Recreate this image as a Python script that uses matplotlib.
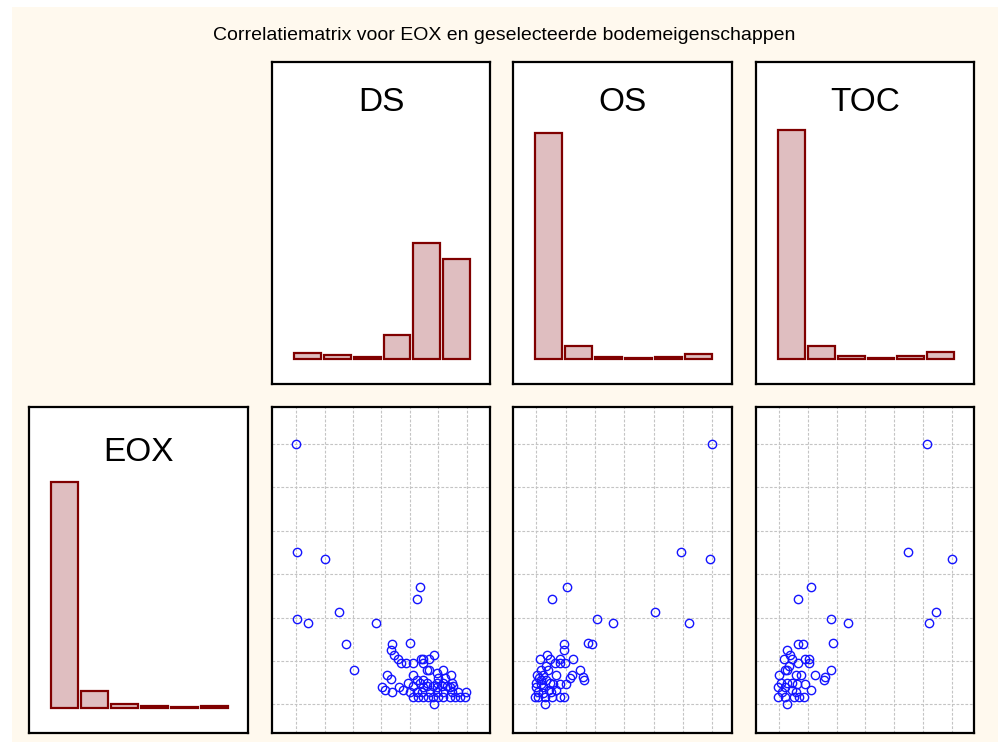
import matplotlib
matplotlib.use("Agg")
import matplotlib.pyplot as plt
from matplotlib.patches import Rectangle

plt.rcParams['font.family'] = ['Liberation Sans', 'DejaVu Sans']

# histogram counts (6 bins per variable)
eox_counts = [224, 17, 4, 2, 1, 2]
ds_counts = [6, 4, 2, 24, 116, 100]
os_counts = [227, 13, 2, 1, 2, 5]
toc_counts = [230, 13, 3, 1, 3, 7]

# scatter EOX vs DS (grid units)
ds_x = [-0.02, 0.04, 1.02, 4.36, 4.25, 0.02, 0.41, 1.52, 2.82, 1.76, 4.00, 2.02,
        3.38, 3.32, 3.44, 3.58, 3.69, 3.86, 4.12, 4.38, 4.47, 4.68, 4.86, 4.45,
        4.59, 4.68, 5.18, 5.44, 4.94, 3.18, 3.33, 3.01, 3.13, 3.38, 3.62, 3.76,
        3.94, 4.12, 4.24, 4.47, 4.86, 5.98,
        4.35, 4.59, 4.94, 5.18, 5.47,
        4.12, 4.59, 4.82, 5.12, 5.29, 5.53,
        4.00, 4.24, 4.41, 4.71, 4.94, 5.18, 5.47, 5.71,
        4.12, 4.29, 4.47, 4.65, 4.82, 5.00, 5.18, 5.41, 5.59, 5.76, 5.94,
        4.47, 4.94, 5.41, 5.00, 5.24]
ds_y = [6.00, 3.50, 3.34, 2.71, 2.42, 1.96, 1.88, 2.13, 1.88, 1.38, 1.42, 0.80,
        1.38, 1.26, 1.13, 1.05, 0.96, 0.96, 0.96, 1.05, 1.05, 1.05, 1.13, 0.96,
        0.80, 0.80, 0.80, 0.67, 0.72, 0.67, 0.59, 0.39, 0.33, 0.29, 0.39, 0.33,
        0.50, 0.67, 0.56, 0.55, 0.00, 0.29,
        0.50, 0.50, 0.50, 0.50, 0.50,
        0.43, 0.43, 0.43, 0.43, 0.43, 0.43,
        0.29, 0.29, 0.29, 0.29, 0.29, 0.29, 0.29, 0.29,
        0.18, 0.18, 0.18, 0.18, 0.18, 0.18, 0.18, 0.18, 0.18, 0.18, 0.18,
        0.39, 0.39, 0.39, 0.60, 0.60]

# scatter EOX vs OS
os_x = [6.00, 4.94, 5.93, 1.04, 0.52, 2.07, 2.62, 4.04, 5.22, 0.94, 0.94, 1.77,
        1.89, 1.25, 1.47, 1.59, 1.61, 1.20, 1.16, 1.02, 0.28,
        0.11, 0.36, 0.45, 0.82, 0.96, 0.62, 0.79, 0.17, 0.40, 0.34, 0.68, 0.02,
        0.09, 0.23, 0.45, 0.14, 0.57, 0.79, 0.00, 0.23, 0.43, 0.68, 0.06, 0.23,
        0.48, -0.06, 0.06, 0.28, 0.54, 0.82, 0.93, 0.00, 0.17, 0.34]
os_y = [6.00, 3.50, 3.34, 2.71, 2.42, 1.96, 1.88, 2.13, 1.88, 1.38, 1.26, 1.42,
        1.38, 1.05, 0.80, 0.64, 0.55, 0.67, 0.60, 0.46, 0.00,
        1.05, 1.13, 1.05, 1.05, 0.96, 0.96, 0.96, 0.80, 0.80, 0.89, 0.67, 0.67,
        0.60, 0.67, 0.50, 0.46, 0.46, 0.46, 0.39, 0.39, 0.33, 0.33, 0.29, 0.26,
        0.29, 0.18, 0.18, 0.18, 0.18, 0.18, 0.18, 0.50, 0.55, 0.55]

# scatter EOX vs TOC
toc_x = [5.13, 4.46, 6.00, 1.10, 0.67, 1.82, 2.41, 5.46, 5.21, 1.86, 0.66, 0.84,
         0.30, 1.82, 1.61, 1.57, 1.27, 1.10, 0.29,
         0.90, 1.04, 0.44, 0.17, 1.06, 0.67, 0.29, 0.78, 0.60, 0.00, 0.09, 0.29,
         0.44, 0.63, 0.90, -0.02, 0.20, 0.46, 0.60, 0.12, -0.02, 0.23, 0.52,
         0.69, 0.87, 0.35, 0.40, 0.23]
toc_y = [6.00, 3.50, 3.34, 2.71, 2.42, 1.96, 1.88, 2.13, 1.88, 1.42, 1.38, 1.38,
         1.26, 0.80, 0.64, 0.55, 0.67, 0.33, 0.00,
         1.05, 1.05, 1.05, 1.05, 0.96, 0.96, 0.80, 0.67, 0.67, 0.67, 0.50, 0.50,
         0.50, 0.46, 0.46, 0.39, 0.39, 0.33, 0.29, 0.29, 0.18, 0.18, 0.18,
         0.18, 0.18, 0.89, 1.14, 0.80]

W, H = 998, 742
fig = plt.figure(figsize=(W / 100, H / 100), dpi=100, facecolor='white')
fig.patches.append(Rectangle((12 / W, 0), 1 - 12 / W, (H - 7) / H,
                             transform=fig.transFigure, facecolor='#FFF9EE',
                             edgecolor='none', zorder=-5))


def box(l, t, r, b):
    return [l / W, 1 - b / H, (r - l) / W, (b - t) / H]


def style(ax):
    ax.set_facecolor('white')
    for s in ax.spines.values():
        s.set_linewidth(1.6)
        s.set_color('black')
    ax.tick_params(length=0, labelbottom=False, labelleft=False)


def hist_panel(rect, counts, name, ty):
    ax = fig.add_axes(box(*rect))
    style(ax)
    ax.bar(range(len(counts)), counts, width=0.9, align='edge',
           color='#DFBEC0', edgecolor='#800000', linewidth=1.6)
    ax.set_xlim(-0.75, 6.57)
    ax.set_ylim(-25, 298)
    ax.set_xticks([])
    ax.set_yticks([])
    ax.text(0.5, ty, name, transform=ax.transAxes, ha='center', va='center',
            fontsize=24)


def scatter_panel(rect, x, y, xlim):
    ax = fig.add_axes(box(*rect))
    style(ax)
    ax.plot(x, y, 'o', mfc='none', mec='#1414FF', ms=6, mew=1.0)
    ax.set_xlim(*xlim)
    ax.set_ylim(-0.66, 6.85)
    ax.set_xticks(range(7))
    ax.set_yticks(range(7))
    ax.grid(True, color='#C4C4C4', linestyle=(0, (2.5, 1.5)), linewidth=0.8)
    ax.set_axisbelow(True)


hist_panel((29, 407, 248, 733), eox_counts, 'EOX', 0.86)
hist_panel((272, 62, 490, 384), ds_counts, 'DS', 0.873)
hist_panel((513, 62, 732, 384), os_counts, 'OS', 0.873)
hist_panel((756, 62, 974, 384), toc_counts, 'TOC', 0.873)

scatter_panel((272, 407, 490, 733), ds_x, ds_y, (-0.85, 6.82))
scatter_panel((513, 407, 732, 733), os_x, os_y, (-0.80, 6.67))
scatter_panel((756, 407, 974, 733), toc_x, toc_y, (-0.79, 6.76))

fig.text(504 / W, 1 - 36 / H,
         'Correlatiematrix voor EOX en geselecteerde bodemeigenschappen',
         ha='center', va='center', fontsize=14)

fig.savefig('out.png', dpi=100, facecolor=fig.get_facecolor())
